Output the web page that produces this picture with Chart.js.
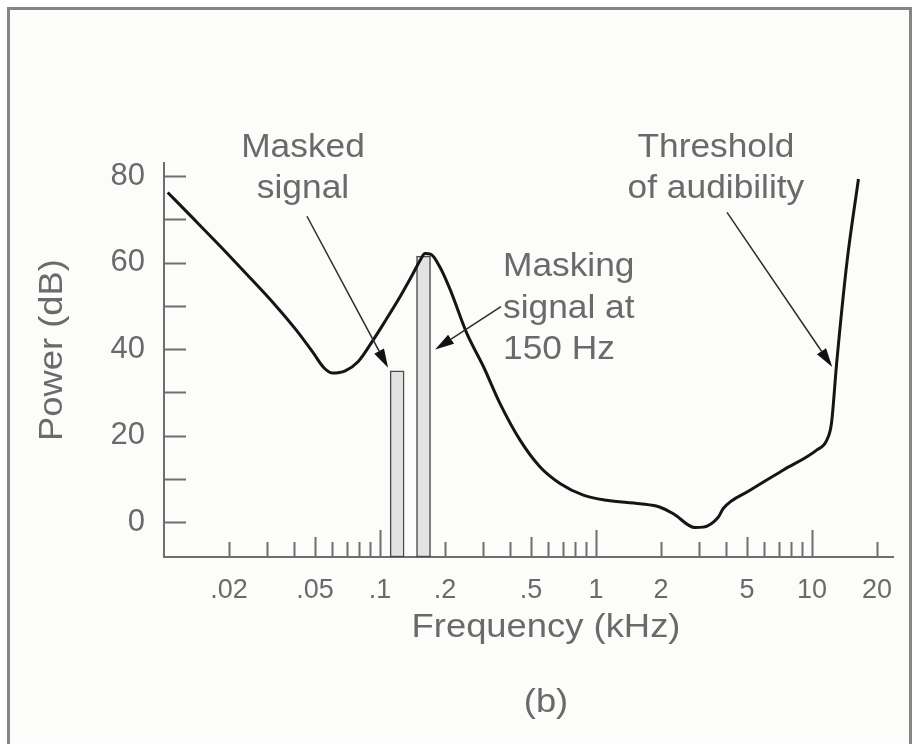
<!DOCTYPE html>
<html>
<head>
<meta charset="utf-8">
<title>Masking</title>
<script src="https://cdn.jsdelivr.net/npm/chart.js@4.4.1/dist/chart.umd.min.js"></script>
<style>
  body { margin: 0; background: #fff; }
  canvas { display: block; }
</style>
</head>
<body>
<canvas id="masking-chart" width="917" height="744"></canvas>
<script>
// threshold of audibility with the masking tone, frequency in kHz, power in dB
const curveFreqs = [0.0104, 0.0139, 0.0186, 0.0247, 0.0323, 0.0408, 0.049, 0.055, 0.06, 0.069, 0.0791,
  0.0918, 0.1066, 0.1238, 0.1406, 0.1532, 0.1616, 0.1722, 0.1896, 0.211, 0.252, 0.301, 0.359, 0.445,
  0.551, 0.681, 0.873, 1.12, 1.6, 1.98, 2.28, 2.87, 3.13, 3.68, 3.88, 5.16, 7.37, 10.5, 11.7, 12.3,
  13.0, 14.5, 16.4];
const curvePower = [76.2, 69.8, 63.3, 56.8, 50.5, 44.5, 39.2, 35.7, 34.5, 35.0, 37.1,
  41.7, 46.8, 52.1, 57.0, 60.5, 62.1, 61.9, 58.9, 53.8, 43.7, 36.0, 27.5, 19.0,
  12.8, 9.0, 6.3, 5.1, 4.3, 3.5, 2.0, -1.2, -1.1, 1.2, 3.2, 7.4, 12.1, 16.7, 19.0, 22.9,
  36.8, 60.0, 79.3];

// the two tones: masked signal and masking signal
const toneFreqs = [0.12, 0.159];
const toneLevels = [35, 61.5];

// axes
const xMin = 0.01, xMax = 23.7;
const yMin = -8, yMax = 83;
const xTicks = [0.02, 0.03, 0.04, 0.05, 0.06, 0.07, 0.08, 0.09, 0.1,
  0.2, 0.3, 0.4, 0.5, 0.6, 0.7, 0.8, 0.9, 1,
  2, 3, 4, 5, 6, 7, 8, 9, 10, 20];
const xLabelValues = [0.02, 0.05, 0.1, 0.2, 0.5, 1, 2, 5, 10, 20];
const xLabelTexts = ['.02', '.05', '.1', '.2', '.5', '1', '2', '5', '10', '20'];
const yTicks = [0, 10, 20, 30, 40, 50, 60, 70, 80];
const yLabelValues = [0, 20, 40, 60, 80];

// notes, anchored in data units (kHz, dB)
const notes = [
  { lines: ['Masked', 'signal'], at: [0.044, 84.4], align: 'center' },
  { lines: ['Masking', 'signal at', '150 Hz'], at: [0.371, 56.8], align: 'left' },
  { lines: ['Threshold', 'of audibility'], at: [3.59, 84.4], align: 'center' }
];
const arrows = [
  { from: [0.0459, 70.7], to: [0.109, 35.7] },
  { from: [0.363, 49.8], to: [0.180, 39.9] },
  { from: [4.04, 71.6], to: [12.4, 35.9] }
];

const axisColor = '#6e6e6e';
const textColor = '#6a6a6a';
const textFont = '"Liberation Sans", Arial, Helvetica, sans-serif';

function stretchedText(ctx, text, x, y, align, rotate) {
  ctx.save();
  ctx.translate(x, y);
  if (rotate) ctx.rotate(rotate);
  ctx.scale(1.07, 1);
  ctx.textAlign = align;
  ctx.textBaseline = 'alphabetic';
  ctx.fillText(text, 0, 0);
  ctx.restore();
}

const decorations = {
  id: 'decorations',
  beforeDraw(chart) {
    const ctx = chart.ctx;
    ctx.save();
    ctx.fillStyle = '#ffffff';
    ctx.fillRect(0, 0, chart.width, chart.height);
    ctx.fillStyle = '#fcfcfa';
    ctx.fillRect(9, 9, 901, 740);
    ctx.strokeStyle = '#858585';
    ctx.lineWidth = 3;
    ctx.strokeRect(8.5, 8.5, 902, 760);
    ctx.restore();
  },
  beforeDatasetsDraw(chart) {
    // inward tick marks
    const ctx = chart.ctx;
    const xs = chart.scales.x, ys = chart.scales.y;
    const area = chart.chartArea;
    ctx.save();
    ctx.strokeStyle = axisColor;
    ctx.lineWidth = 2;
    ctx.beginPath();
    xTicks.forEach(v => {
      const px = Math.round(xs.getPixelForValue(v)) + 0.5;
      const lg = Math.log10(v);
      const decade = Math.abs(lg - Math.round(lg)) < 1e-9;
      const five = Math.abs(lg - Math.floor(lg) - Math.log10(5)) < 1e-9;
      const len = decade ? 27 : (five ? 20 : 15);
      ctx.moveTo(px, area.bottom);
      ctx.lineTo(px, area.bottom - len);
    });
    yTicks.forEach(v => {
      const py = Math.round(ys.getPixelForValue(v)) + 0.5;
      ctx.moveTo(area.left, py);
      ctx.lineTo(area.left + 22, py);
    });
    ctx.stroke();
    ctx.restore();
  },
  afterDraw(chart) {
    const ctx = chart.ctx;
    const xs = chart.scales.x, ys = chart.scales.y;
    const area = chart.chartArea;
    ctx.save();

    // arrows
    arrows.forEach(a => {
      const x1 = xs.getPixelForValue(a.from[0]), y1 = ys.getPixelForValue(a.from[1]);
      const x2 = xs.getPixelForValue(a.to[0]), y2 = ys.getPixelForValue(a.to[1]);
      const ang = Math.atan2(y2 - y1, x2 - x1);
      const head = 19, half = 5.5;
      ctx.strokeStyle = '#2b2b2b';
      ctx.lineWidth = 1.5;
      ctx.beginPath();
      ctx.moveTo(x1, y1);
      ctx.lineTo(x2 - head * Math.cos(ang), y2 - head * Math.sin(ang));
      ctx.stroke();
      ctx.fillStyle = '#111';
      ctx.beginPath();
      ctx.moveTo(x2, y2);
      ctx.lineTo(x2 - head * Math.cos(ang) + half * Math.sin(ang), y2 - head * Math.sin(ang) - half * Math.cos(ang));
      ctx.lineTo(x2 - head * Math.cos(ang) - half * Math.sin(ang), y2 - head * Math.sin(ang) + half * Math.cos(ang));
      ctx.closePath();
      ctx.fill();
    });

    // notes
    ctx.fillStyle = textColor;
    ctx.font = '33px ' + textFont;
    notes.forEach(n => {
      const x = xs.getPixelForValue(n.at[0]);
      const y = ys.getPixelForValue(n.at[1]);
      n.lines.forEach((line, i) => stretchedText(ctx, line, x, y + i * 41.5, n.align));
    });

    // axis titles
    ctx.font = '34px ' + textFont;
    stretchedText(ctx, 'Frequency (kHz)', area.left + 382, area.bottom + 80, 'center');
    stretchedText(ctx, '(b)', area.left + 382, area.bottom + 155, 'center');
    stretchedText(ctx, 'Power (dB)', 62, 350, 'center', -Math.PI / 2);
    ctx.restore();
  }
};

const ctx = document.getElementById('masking-chart').getContext('2d');

const config = {
  type: 'line',
  data: {
    datasets: [{
      type: 'line',
      label: 'Threshold of audibility',
      data: curveFreqs.map((f, i) => ({ x: f, y: curvePower[i] })),
      borderColor: '#151515',
      borderWidth: 3,
      pointRadius: 0,
      cubicInterpolationMode: 'monotone',
      fill: false,
      order: 1
    }, {
      type: 'bar',
      label: 'Tones',
      data: toneFreqs.map((f, i) => ({ x: f, y: [yMin, toneLevels[i]] })),
      backgroundColor: '#e2e2e2',
      borderColor: '#4a4a4a',
      borderWidth: 1.5,
      borderSkipped: false,
      barThickness: 14,
      order: 2
    }]
  },
  options: {
    responsive: false,
    devicePixelRatio: 1,
    animation: false,
    events: [],
    layout: { padding: { top: 163, right: 24, bottom: 0, left: 0 } },
    plugins: {
      legend: { display: false },
      tooltip: { enabled: false }
    },
    scales: {
      x: {
        type: 'logarithmic',
        min: xMin,
        max: xMax,
        offset: false,
        grid: { display: false, offset: false },
        border: { display: true, color: axisColor, width: 2 },
        afterBuildTicks: scale => { scale.ticks = xTicks.map(v => ({ value: v })); },
        afterFit: scale => { scale.height = 187; },
        ticks: {
          autoSkip: false,
          maxRotation: 0,
          padding: 9,
          color: textColor,
          font: { family: textFont, size: 27 },
          callback: v => {
            const i = xLabelValues.indexOf(v);
            return i >= 0 ? xLabelTexts[i] : '';
          }
        }
      },
      y: {
        type: 'linear',
        min: yMin,
        max: yMax,
        grid: { display: false },
        border: { display: true, color: axisColor, width: 2 },
        afterBuildTicks: scale => { scale.ticks = yTicks.map(v => ({ value: v })); },
        afterFit: scale => { scale.width = 164; },
        ticks: {
          autoSkip: false,
          padding: 11,
          color: textColor,
          font: { family: textFont, size: 31 },
          callback: v => (yLabelValues.includes(v) ? String(v) : '')
        }
      }
    }
  },
  plugins: [decorations]
};

const maskingChart = new Chart(ctx, config);
</script>
</body>
</html>
